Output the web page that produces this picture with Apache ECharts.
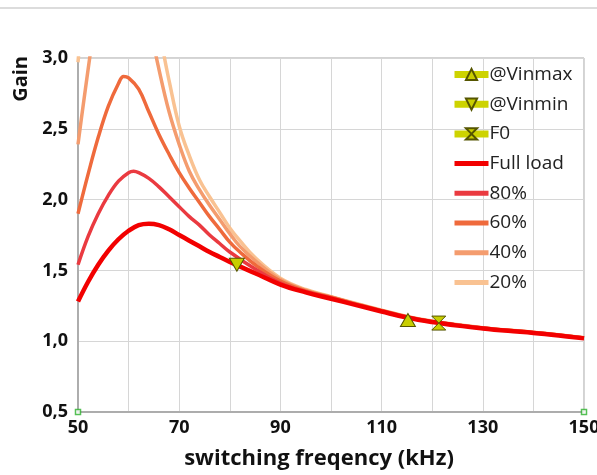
<!DOCTYPE html>
<html>
<head>
<meta charset="utf-8">
<script src="https://cdn.jsdelivr.net/npm/echarts@6/dist/echarts.min.js"></script>
<style>
html,body{margin:0;padding:0;background:#fff;}
#c{width:597px;height:475px;}
</style>
</head>
<body>
<div id="c"></div>
<script>
// ---- data ----
var xTicks = [50, 70, 90, 110, 130, 150];
var yTicks = [0.5, 1.0, 1.5, 2.0, 2.5, 3.0];

var fullLoad = [[50,1.28],[52,1.42],[54,1.54],[56,1.64],[58,1.72],[60,1.78],[62,1.82],[64,1.83],[66,1.82],[68,1.79],[70,1.75],[72,1.71],[74,1.67],[76,1.63],[78,1.595],[80,1.56],[85,1.48],[90,1.40],[95,1.345],[100,1.30],[105,1.255],[110,1.21],[115,1.167],[120,1.135],[125,1.11],[130,1.09],[135,1.073],[140,1.058],[145,1.04],[150,1.02]];
var load80 = [[50,1.54],[52,1.74],[54,1.90],[56,2.03],[58,2.13],[60,2.19],[61,2.20],[62,2.19],[64,2.15],[66,2.09],[68,2.02],[70,1.95],[72,1.88],[74,1.82],[76,1.75],[78,1.69],[80,1.63],[85,1.51],[90,1.41],[95,1.35],[100,1.305],[105,1.258],[110,1.213],[115,1.169],[120,1.137],[130,1.092],[140,1.06],[150,1.022]];
var load60 = [[50,1.90],[52,2.18],[54,2.44],[56,2.66],[58,2.82],[59,2.87],[60,2.86],[62,2.78],[64,2.62],[66,2.46],[68,2.32],[70,2.19],[72,2.08],[74,1.98],[76,1.88],[78,1.79],[80,1.70],[82,1.63],[85,1.54],[90,1.425],[95,1.355],[100,1.31],[105,1.262],[110,1.215],[115,1.171],[120,1.138],[130,1.093],[140,1.061],[150,1.023]];
var load40 = [[50,2.39],[51,2.66],[52,2.92],[53,3.18],[54,3.45],[56,3.9],[58,4.2],[60,4.2],[62,3.9],[64,3.4],[65,3.1],[66,2.92],[68,2.62],[70,2.39],[72,2.2],[74,2.07],[76,1.96],[78,1.86],[80,1.76],[82,1.67],[85,1.57],[90,1.435],[95,1.36],[100,1.312],[105,1.264],[110,1.217],[115,1.173],[120,1.14],[130,1.094],[140,1.062],[150,1.024]];
var load20 = [[50,2.97],[51,3.4],[52,3.9],[54,4.8],[57,5.6],[60,5.4],[63,4.3],[65,3.5],[66,3.25],[67,3.02],[68,2.84],[70,2.52],[72,2.31],[74,2.14],[76,2.02],[78,1.91],[80,1.8],[82,1.71],[85,1.59],[90,1.445],[95,1.365],[100,1.315],[105,1.266],[110,1.219],[115,1.175],[120,1.142],[130,1.095],[140,1.063],[150,1.025]];
var vinMax = [[115.2,1.15]];
var vinMin = [[81.4,1.54]];
var f0 = [[121.3,1.128]];
var handles = [[50,0.5],[150,0.5]];

var names = ['@Vinmax','@Vinmin','F0','Full load','80%','60%','40%','20%'];
var curveNames = ['Full load','80%','60%','40%','20%'];

var chart = echarts.init(document.getElementById('c'), null, {renderer:'canvas'});
var FONT = 'Open Sans';
function curve(name, data, color, width){
  return {name:name, type:'line', data:data, smooth:0.4, symbol:'none', clip:true,
    lineStyle:{color:color, width:width}, itemStyle:{color:color}};
}
function marker(name, data, symbol, size){
  return {name:name, type:'line', data:data, symbol:symbol, symbolSize:size, z:5,
    lineStyle:{color:'#CDD300', width:7},
    itemStyle:{color:'#C8CE00', borderColor:'#555500', borderWidth:1}};
}
var hourglass = 'path://M0,0 L10,0 L5,6 L10,12 L0,12 L5,6 Z';

var legendData = names.map(function(n){
  if (curveNames.indexOf(n) >= 0) return {name:n, itemStyle:{opacity:0}, lineStyle:{width:5}};
  return {name:n, lineStyle:{width:7}};
});

chart.setOption({
  animation:false,
  backgroundColor:'#fff',
  textStyle:{fontFamily:FONT},
  grid:{left:78, right:13, top:58, bottom:63, show:true, borderColor:'#a6a6a6', borderWidth:1,
    containLabel:false, outerBoundsMode:'none'},
  graphic:[
    {type:'line', shape:{x1:0,y1:8,x2:597,y2:8}, style:{stroke:'#dcdcdc', lineWidth:2}},
    {type:'text', left:11, top:56, rotation:Math.PI/2, style:{text:'Gain', font:'bold 20px "Open Sans"', fill:'#111'}}
  ],
  legend:{
    orient:'vertical', left:446, top:60, itemWidth:34, itemHeight:14, itemGap:10.7,
    data:legendData,
    textStyle:{fontFamily:FONT, fontSize:19, color:'#222', padding:[0,0,0,-4]}
  },
  xAxis:{
    type:'value', min:50, max:150, interval:10,
    name:'switching freqency (kHz)', nameLocation:'middle', nameGap:36,
    nameTextStyle:{fontFamily:FONT, fontWeight:'bold', fontSize:22, color:'#111', padding:[0,24,0,0]},
    axisLine:{show:true, lineStyle:{color:'#a0a0a0', width:1.5}},
    axisTick:{show:false},
    axisLabel:{fontFamily:FONT, fontWeight:'bold', fontSize:18, color:'#111', margin:7,
      formatter:function(v){ return xTicks.indexOf(v) >= 0 ? String(v) : ''; }},
    splitLine:{show:true, lineStyle:{color:'#d6d6d6', width:1}}
  },
  yAxis:{
    type:'value', min:0.5, max:3.0, interval:0.5,
    axisLine:{show:true, lineStyle:{color:'#a0a0a0', width:1.5}},
    axisTick:{show:false},
    axisLabel:{fontFamily:FONT, fontWeight:'bold', fontSize:18, color:'#111', margin:10,
      formatter:function(v){ return yTicks.indexOf(Math.round(v*10)/10) >= 0 ? v.toFixed(1).replace('.', ',') : ''; }},
    splitLine:{show:true, lineStyle:{color:'#d6d6d6', width:1}}
  },
  series:[
    curve('20%', load20, '#F9C292', 3.5),
    curve('40%', load40, '#F49C6E', 3.5),
    curve('60%', load60, '#EF6A3C', 3.5),
    curve('80%', load80, '#EA3A40', 3.5),
    curve('Full load', fullLoad, '#F20000', 4.5),
    marker('@Vinmax', vinMax, 'triangle', [15,13]),
    marker('@Vinmin', vinMin, 'path://M0,0 L10,0 L5,9 Z', [15,13]),
    marker('F0', f0, hourglass, [14,14]),
    {name:'handles', type:'scatter', data:handles, symbol:'rect', symbolSize:5, z:6,
      itemStyle:{color:'#fff', borderColor:'#2bb02b', borderWidth:1.5}, silent:true}
  ]
});
</script>
</body>
</html>
